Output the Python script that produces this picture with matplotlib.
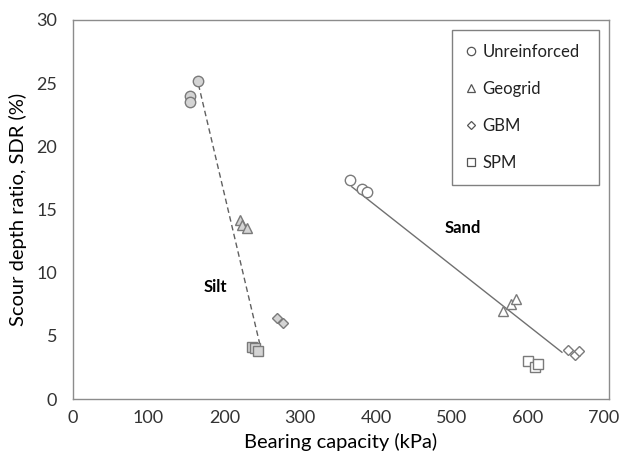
import matplotlib
matplotlib.use("Agg")
import matplotlib.pyplot as plt
from matplotlib.lines import Line2D

plt.rcParams['font.family'] = ['Lato', 'DejaVu Sans']

# Silt data (filled grey markers)
silt_unr_x = [165, 155, 155]
silt_unr_y = [25.2, 24.0, 23.5]
silt_geo_x = [221, 224, 230]
silt_geo_y = [14.2, 13.8, 13.5]
silt_gbm_x = [269, 277]
silt_gbm_y = [6.4, 6.0]
silt_spm_x = [236, 240, 245]
silt_spm_y = [4.15, 4.0, 3.8]
silt_line_x = [166, 247]
silt_line_y = [24.9, 4.3]

# Sand data (open markers)
sand_unr_x = [366, 382, 388]
sand_unr_y = [17.3, 16.6, 16.4]
sand_geo_x = [567, 578, 584]
sand_geo_y = [7.0, 7.5, 7.9]
sand_gbm_x = [653, 662, 668]
sand_gbm_y = [3.9, 3.5, 3.8]
sand_spm_x = [600, 610, 614]
sand_spm_y = [3.0, 2.5, 2.75]
sand_line_x = [368, 645]
sand_line_y = [16.8, 3.7]

legend_labels = ['Unreinforced', 'Geogrid', 'GBM', 'SPM']
legend_markers = ['o', '^', 'D', 's']

fig = plt.figure(figsize=(6.22, 4.62), dpi=100)
ax = fig.add_axes([72.5/622, 1-399/462, (609-72.5)/622, (399-20)/462])

edge = '#7a7a7a'
silt_fill = '#d4d4d4'
ms = 7.5

ax.plot(silt_line_x, silt_line_y, color='#606060', lw=1.0, ls=(0, (4, 2.5)), zorder=1)
ax.plot(sand_line_x, sand_line_y, color='#707070', lw=1.0, zorder=1)

def pts(x, y, m, fill, size=ms):
    ax.plot(x, y, ls='none', marker=m, ms=size, mfc=fill, mec=edge, mew=1.0, zorder=3)

pts(silt_unr_x, silt_unr_y, 'o', silt_fill)
pts(silt_geo_x, silt_geo_y, '^', silt_fill)
pts(silt_gbm_x, silt_gbm_y, 'D', silt_fill, 5.5)
pts(silt_spm_x, silt_spm_y, 's', silt_fill)
pts(sand_unr_x, sand_unr_y, 'o', 'white')
pts(sand_geo_x, sand_geo_y, '^', 'white')
pts(sand_gbm_x, sand_gbm_y, 'D', 'white', 5.5)
pts(sand_spm_x, sand_spm_y, 's', 'white')

ax.text(188, 8.9, 'Silt', fontsize=12, fontweight='bold', ha='center', va='center')
ax.text(514, 13.5, 'Sand', fontsize=12, fontweight='bold', ha='center', va='center')

ax.set_xlim(0, 707)
ax.set_ylim(0, 30)
ax.set_xticks(range(0, 701, 100))
ax.set_yticks(range(0, 31, 5))
ax.tick_params(length=0, labelsize=13, pad=8, colors='#333333')
ax.tick_params(axis='y', pad=11)
for s in ax.spines.values():
    s.set_color('#8c8c8c')
    s.set_linewidth(1.0)

ax.set_xlabel('Bearing capacity (kPa)', fontsize=14.5, labelpad=5)
ax.set_ylabel('Scour depth ratio, SDR (%)', fontsize=14.5, labelpad=7)

handles = [Line2D([], [], ls='none', marker=m, ms=6 if m != 'D' else 4.5, mfc='white', mec='#555555', mew=0.9)
           for m in legend_markers]
leg = ax.legend(handles, legend_labels, loc='upper left',
                bbox_to_anchor=(0.7068, 0.9736, 0.981-0.7068, 0.0), mode='expand',
                fontsize=12, labelspacing=1.25, handlelength=0.6, handletextpad=0.4,
                borderpad=0.85, fancybox=False, framealpha=1, edgecolor='#808080',
                borderaxespad=0)
leg.get_frame().set_linewidth(1.0)
for t in leg.get_texts():
    t.set_color('#222222')

fig.savefig('out.png', dpi=100)
